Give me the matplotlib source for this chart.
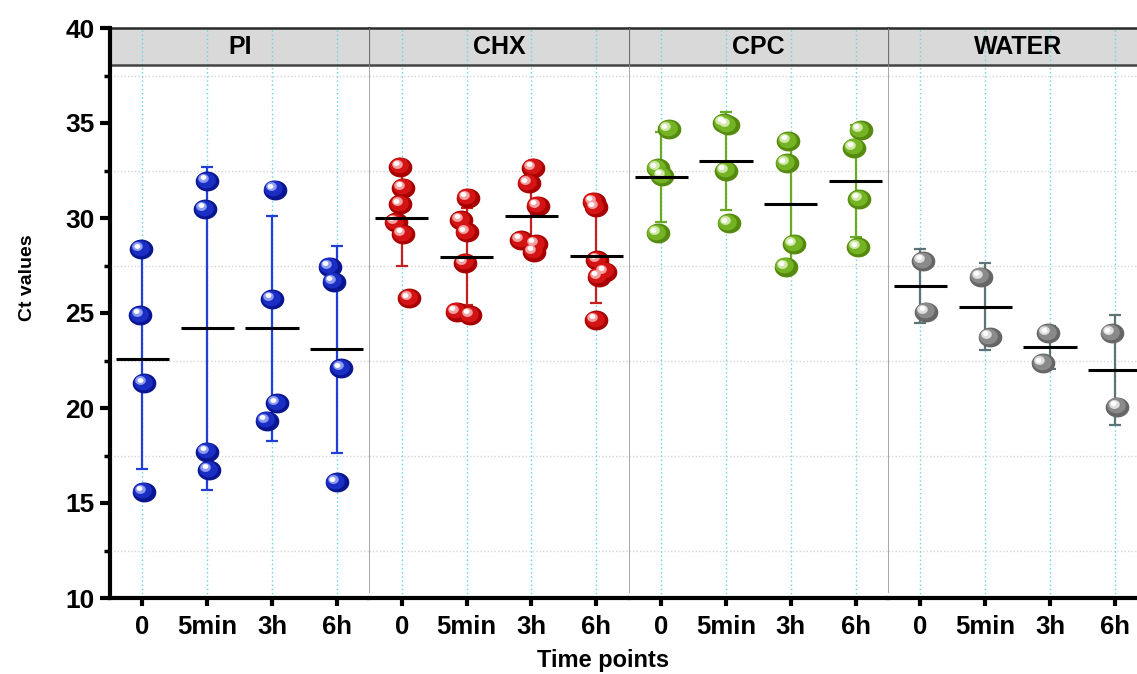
import numpy as np
import matplotlib
matplotlib.use('Agg')
import matplotlib.pyplot as plt
from matplotlib.path import Path
from matplotlib.patches import Rectangle
from matplotlib.transforms import offset_copy

plt.rcParams['font.family'] = ['Liberation Sans', 'DejaVu Sans']
plt.rcParams['font.weight'] = 'bold'

# Data (Ct values per time point)
groups = ['PI', 'CHX', 'CPC', 'WATER']
time_labels = ['0', '5min', '3h', '6h']

pi_ct = [[28.35, 24.9, 21.3, 15.6],
         [31.95, 30.47, 17.7, 16.74],
         [31.5, 25.74, 20.25, 19.33],
         [27.44, 26.65, 22.09, 16.09]]
chx_ct = [[32.7, 31.6, 30.72, 29.8, 29.16, 25.77],
          [31.07, 29.9, 29.25, 27.65, 25.07, 24.9],
          [32.65, 31.83, 30.65, 28.84, 28.63, 28.23],
          [30.86, 30.56, 27.79, 27.18, 26.91, 24.63]]
cpc_ct = [[34.67, 32.61, 32.21, 29.19],
          [35.0, 34.9, 32.49, 29.72],
          [34.05, 32.88, 28.62, 27.44],
          [34.63, 33.7, 31.0, 28.46]]
water_ct = [[27.75, 25.07],
            [26.91, 23.75],
            [23.93, 22.35],
            [23.93, 20.07]]

# jitter of each point around its time point (category units)
pi_jit = [[-0.02, -0.03, 0.03, 0.02], [0.0, -0.03, 0.0, 0.03],
          [0.04, 0.0, 0.08, -0.08], [-0.11, -0.05, 0.07, 0.0]]
chx_jit = [[-0.02, 0.02, -0.02, -0.09, 0.02, 0.12],
           [0.02, -0.08, 0.0, -0.02, -0.15, 0.06],
           [0.03, -0.04, 0.1, -0.16, 0.07, 0.04],
           [-0.04, -0.01, 0.02, 0.14, 0.04, 0.0]]
cpc_jit = [[0.12, -0.05, 0.02, -0.05], [-0.03, 0.03, 0.0, 0.04],
           [-0.04, -0.06, 0.05, -0.08], [0.08, -0.02, 0.06, 0.04]]
water_jit = [[0.04, 0.09], [-0.07, 0.07], [-0.03, -0.11], [-0.05, 0.04]]

pi_mean = [22.56, 24.19, 24.19, 23.09]
pi_sd = [5.76, 8.49, 5.91, 5.46]
chx_mean = [29.98, 27.96, 30.12, 28.0]
chx_sd = [2.5, 2.56, 1.85, 2.49]
cpc_mean = [32.16, 33.0, 30.74, 31.96]
cpc_sd = [2.39, 2.6, 3.21, 2.94]
water_mean = [26.42, 25.33, 23.19, 22.0]
water_sd = [1.94, 2.3, 1.15, 2.9]

all_ct = [pi_ct, chx_ct, cpc_ct, water_ct]
all_jit = [pi_jit, chx_jit, cpc_jit, water_jit]
all_mean = [pi_mean, chx_mean, cpc_mean, water_mean]
all_sd = [pi_sd, chx_sd, cpc_sd, water_sd]

# ball shades: dark base, body, light, and error bar colour
shades = [('#0a1590', '#1a2ec4', '#8d9cf2', '#1f3fd6'),
          ('#a80000', '#d41414', '#f4a0a0', '#c42020'),
          ('#558a0e', '#74b324', '#cfe8a6', '#6aab26'),
          ('#666666', '#8a8a8a', '#dddddd', '#5c7478')]

W, H = 1137, 674
fig = plt.figure(figsize=(W / 100, H / 100), dpi=100)

theta = np.linspace(0, 2 * np.pi, 64)
ell = Path(np.c_[np.cos(theta), 0.84 * np.sin(theta)], closed=True)
BALL = 290


def draw_balls(ax, xs, ys, base, body, light):
    ax.scatter(xs, ys, s=BALL, marker=ell, color=base, lw=0, zorder=4)
    t1 = offset_copy(ax.transData, fig=fig, x=-1.0, y=0.9, units='points')
    ax.scatter(xs, ys, s=BALL * 0.62, marker=ell, color=body, lw=0, zorder=5, transform=t1)
    t2 = offset_copy(ax.transData, fig=fig, x=-2.8, y=2.2, units='points')
    ax.scatter(xs, ys, s=BALL * 0.2, marker=ell, color=light, lw=0, zorder=6, transform=t2)
    t3 = offset_copy(ax.transData, fig=fig, x=-3.2, y=2.6, units='points')
    ax.scatter(xs, ys, s=BALL * 0.06, marker=ell, color='white', lw=0, zorder=7, transform=t3)


panel_left = [110, 369.3, 628.7, 888]
panel_w = 259.3
bottom_px, top_px = 598, 28
axes = []
for k, grp in enumerate(groups):
    ax = fig.add_axes([panel_left[k] / W, 1 - bottom_px / H,
                       panel_w / W, (bottom_px - top_px) / H])
    axes.append(ax)
    ax.set_xlim(-0.5, 3.5)
    ax.set_ylim(10, 40)
    base, body, light, ecol = shades[k]

    # grid
    for yy in np.arange(12.5, 40, 5):
        ax.axhline(yy, color='#d6d6d6', ls=(0, (1, 1.5)), lw=1.0, zorder=0.5)
    for i in range(4):
        ax.axvline(i, color='#62d4e4', ls=(0, (1, 2)), lw=1.0, zorder=2)

    # header strip
    ax.add_patch(Rectangle((-0.5, 38.05), 4, 1.95, facecolor='#d9d9d9',
                           edgecolor='none', zorder=1))
    ax.axhline(40, color='#2a2a2a', lw=1.8, zorder=2.5, clip_on=False)
    ax.axhline(38.05, color='#444444', lw=1.8, zorder=2.5)
    ax.text(1.5, 39.0, grp, ha='center', va='center', fontsize=18,
            fontweight='bold', zorder=3)

    for i in range(4):
        vals = all_ct[k][i]
        xs = [i + j for j in all_jit[k][i]]
        ax.errorbar(i, all_mean[k][i], yerr=all_sd[k][i], fmt='none',
                    ecolor=ecol, elinewidth=1.6, capsize=4, capthick=1.6, zorder=3)
        draw_balls(ax, xs, vals, base, body, light)
        ax.hlines(all_mean[k][i], i - 0.41, i + 0.41, color='black', lw=2.2, zorder=8)

    ax.spines['top'].set_visible(False)
    ax.spines['right'].set_visible(False)
    ax.spines['bottom'].set_linewidth(3)
    ax.set_xticks(range(4))
    ax.set_xticklabels(time_labels)
    ax.tick_params(axis='x', length=6, width=3, labelsize=18.5, pad=6)
    for lab in ax.get_xticklabels():
        lab.set_fontweight('bold')

    if k == 0:
        ax.spines['left'].set_linewidth(3)
        ax.set_yticks(range(10, 41, 5))
        ax.set_yticks(np.arange(12.5, 40, 5), minor=True)
        ax.tick_params(axis='y', which='major', length=7, width=3, labelsize=19, pad=4)
        ax.tick_params(axis='y', which='minor', length=4, width=2.5)
        for lab in ax.get_yticklabels():
            lab.set_fontweight('bold')
    else:
        ax.spines['left'].set_visible(False)
        ax.tick_params(axis='y', which='both', left=False, labelleft=False)
        ax.axvline(-0.5, ymin=0.01, ymax=0.935, color='#a0a0a0', lw=1.3, zorder=3)
        ax.axvline(-0.5, ymin=0.935, ymax=1.0, color='#707070', lw=1.6, zorder=3)

fig.text(28 / W, 1 - 278 / H, 'Ct values', rotation=90, ha='center', va='center',
         fontsize=14, fontweight='bold')
fig.text(603 / W, 1 - 660 / H, 'Time points', ha='center', va='center',
         fontsize=17, fontweight='bold')

fig.savefig('out.png', dpi=100)
